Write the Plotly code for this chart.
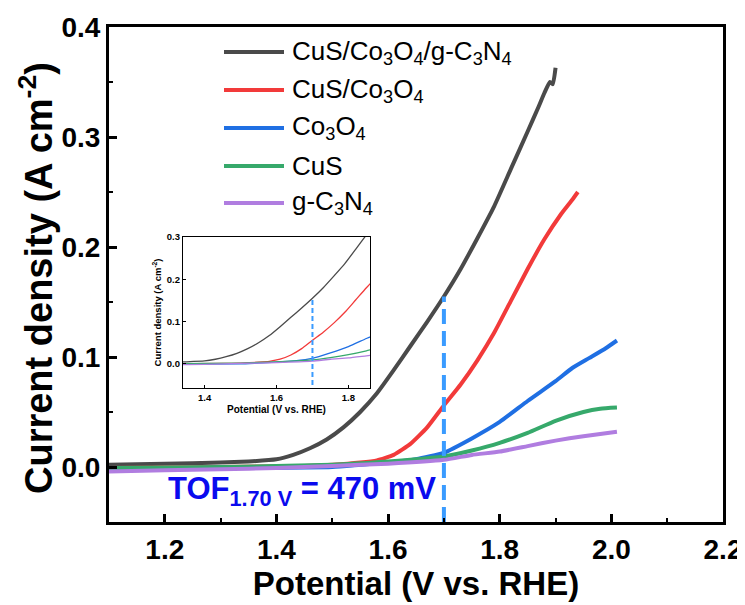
import plotly.graph_objects as go

# ---------------- data ----------------
black_v = [1.10, 1.20, 1.30, 1.35, 1.40, 1.43, 1.46, 1.49, 1.52, 1.55, 1.58, 1.61, 1.64, 1.67, 1.70,
           1.73, 1.76, 1.79, 1.82, 1.85, 1.87, 1.88, 1.89, 1.895, 1.90]
black_j = [0.002, 0.003, 0.004, 0.005, 0.007, 0.011, 0.017, 0.025, 0.036, 0.050, 0.067, 0.088, 0.110,
           0.132, 0.155, 0.180, 0.208, 0.237, 0.271, 0.305, 0.328, 0.340, 0.350, 0.348, 0.363]

red_v = [1.10, 1.30, 1.45, 1.50, 1.55, 1.58, 1.61, 1.64, 1.67, 1.70, 1.73, 1.76, 1.79, 1.82, 1.85,
         1.88, 1.91, 1.93, 1.94]
red_j = [-0.001, 0.000, 0.001, 0.002, 0.004, 0.006, 0.011, 0.021, 0.036, 0.056, 0.075, 0.097, 0.122,
         0.151, 0.180, 0.207, 0.230, 0.243, 0.250]

blue_v = [1.10, 1.30, 1.50, 1.55, 1.60, 1.65, 1.70, 1.75, 1.80, 1.85, 1.90, 1.93, 1.96, 1.99, 2.01]
blue_j = [-0.001, -0.001, 0.000, 0.002, 0.004, 0.007, 0.013, 0.026, 0.041, 0.060, 0.078, 0.090,
          0.099, 0.108, 0.115]

green_v = [1.10, 1.30, 1.50, 1.60, 1.65, 1.70, 1.75, 1.80, 1.85, 1.90, 1.95, 1.98, 2.01]
green_j = [-0.001, 0.000, 0.002, 0.005, 0.007, 0.0095, 0.015, 0.022, 0.031, 0.042, 0.050, 0.053, 0.054]

purple_v = [1.10, 1.20, 1.30, 1.40, 1.50, 1.60, 1.70, 1.75, 1.80, 1.85, 1.90, 1.95, 2.01]
purple_j = [-0.004, -0.003, -0.002, -0.001, 0.001, 0.003, 0.0065, 0.011, 0.014, 0.019, 0.024, 0.028, 0.032]

names = ["CuS/Co<sub>3</sub>O<sub>4</sub>/g-C<sub>3</sub>N<sub>4</sub>",
         "CuS/Co<sub>3</sub>O<sub>4</sub>",
         "Co<sub>3</sub>O<sub>4</sub>",
         "CuS",
         "g-C<sub>3</sub>N<sub>4</sub>"]
colors = ["#4a4a4a", "#f23a3a", "#1f6fe3", "#36a96b", "#b07de0"]
xs = [black_v, red_v, blue_v, green_v, purple_v]
ys = [black_j, red_j, blue_j, green_j, purple_j]

tof_v = [1.70, 1.70]
tof_j = [-0.05, 0.155]

x_ticks = [1.2, 1.4, 1.6, 1.8, 2.0, 2.2]
y_ticks = [0.0, 0.1, 0.2, 0.3, 0.4]
inset_x_ticks = [1.4, 1.6, 1.8]
inset_y_ticks = [0.0, 0.1, 0.2, 0.3]

FONT = "Liberation Sans, Arial, sans-serif"

# ---------------- figure ----------------
OFF = 8                      # page body margin of the html
W, H = 745 - OFF, 605 - OFF
# plot area in page pixels: left 109, right 723, top 27, bottom 522
L, T = 109 - OFF, 27 - OFF
R, B = W - (723 - OFF), H - (522 - OFF)
PW, PH = W - L - R, H - T - B


def px2paper(px, py):
    """page pixel -> paper coordinate"""
    return (px - OFF - L) / PW, (H - B - (py - OFF)) / PH


fig = go.Figure()

for n, c, xv, yv in zip(names, colors, xs, ys):
    fig.add_trace(go.Scatter(x=xv, y=yv, mode="lines", name=n, showlegend=False,
                             line=dict(color=c, width=4, shape="spline", smoothing=0.5),
                             xaxis="x", yaxis="y"))
fig.add_trace(go.Scatter(x=tof_v, y=tof_j, mode="lines", showlegend=False,
                         line=dict(color="#3a9bff", width=4, dash="15px,7px"),
                         xaxis="x", yaxis="y"))

for n, c, xv, yv in zip(names, colors, xs, ys):
    fig.add_trace(go.Scatter(x=xv, y=yv, mode="lines", name=n, showlegend=False,
                             line=dict(color=c, width=1.3, shape="spline", smoothing=0.5),
                             xaxis="x2", yaxis="y2"))
fig.add_trace(go.Scatter(x=tof_v, y=tof_j, mode="lines", showlegend=False,
                         line=dict(color="#3a9bff", width=2, dash="5px,3px"),
                         xaxis="x2", yaxis="y2"))

# inset domain
ix0, iy0 = px2paper(183, 388)
ix1, iy1 = px2paper(370, 237)

axis_common = dict(showline=True, linecolor="black", mirror=True, showgrid=False,
                   zeroline=False, ticks="inside", tickcolor="black", automargin=False)

fig.update_layout(
    width=W, height=H,
    margin=dict(l=L, r=R, t=T, b=B, autoexpand=False),
    paper_bgcolor="white", plot_bgcolor="white",
    font=dict(family=FONT, color="black"),
    xaxis=dict(domain=[0, 1], range=[1.1, 2.2], tickvals=x_ticks, tickformat=".1f",
               linewidth=3, ticklen=8, tickwidth=3,
               tickfont=dict(size=28, family=FONT, weight="bold"),
               minor=dict(dtick=0.1, tick0=1.1, ticklen=4, tickwidth=2, ticks="inside", tickcolor="black"),
               title=dict(text="<b>Potential (V vs. RHE)</b>", font=dict(size=33, family=FONT), standoff=6),
               **axis_common),
    yaxis=dict(domain=[0, 1], range=[-0.05, 0.4], tickvals=y_ticks, tickformat=".1f",
               linewidth=3, ticklen=8, tickwidth=3,
               tickfont=dict(size=28, family=FONT, weight="bold"),
               minor=dict(dtick=0.05, tick0=0, ticklen=4, tickwidth=2, ticks="inside", tickcolor="black"),
               **axis_common),
    xaxis2=dict(domain=[ix0, ix1], anchor="y2", range=[1.34, 1.86], tickvals=inset_x_ticks,
                tickformat=".1f", linewidth=1.3, ticklen=3, tickwidth=1,
                tickfont=dict(size=9.5, family=FONT, weight="bold"),
                title=dict(text="<b>Potential (V vs. RHE)</b>", font=dict(size=10, family=FONT), standoff=4),
                **axis_common),
    yaxis2=dict(domain=[iy0, iy1], anchor="x2", range=[-0.057, 0.3], tickvals=inset_y_ticks,
                tickformat=".1f", linewidth=1.3, ticklen=3, tickwidth=1,
                tickfont=dict(size=9.5, family=FONT, weight="bold"),
                title=dict(text="<b>Current density (A cm<sup>-2</sup>)</b>", font=dict(size=9.5, family=FONT), standoff=3),
                **axis_common),
)

# main y-axis title (placed as annotation for exact position)
yt_x, yt_y = px2paper(36, 278)
fig.add_annotation(xref="paper", yref="paper", x=yt_x, y=yt_y, textangle=-90,
                   text="<b>Current density (A cm<sup>-2</sup>)</b>", showarrow=False,
                   xanchor="center", yanchor="middle", font=dict(size=38, family=FONT, color="black"))

# manual legend
legend_rows = [52, 90, 128, 166, 203]
for n, c, py in zip(names, colors, legend_rows):
    x0, yy = px2paper(224, py)
    x1, _ = px2paper(284, py)
    fig.add_shape(type="line", xref="paper", yref="paper", x0=x0, x1=x1, y0=yy, y1=yy,
                  line=dict(color=c, width=4))
    tx, _ = px2paper(290, py)
    fig.add_annotation(xref="paper", yref="paper", x=tx, y=yy, text=n, showarrow=False,
                       xanchor="left", yanchor="middle", font=dict(size=26, family=FONT, color="black"))

# TOF annotation
ax, ay = px2paper(166, 491)
fig.add_annotation(xref="paper", yref="paper", x=ax, y=ay,
                   text="<b>TOF<sub>1.70 V</sub> = 470 mV</b>", showarrow=False,
                   xanchor="left", yanchor="middle", font=dict(size=31, family=FONT, color="#0a0aee"))

fig.write_html("out.html")
